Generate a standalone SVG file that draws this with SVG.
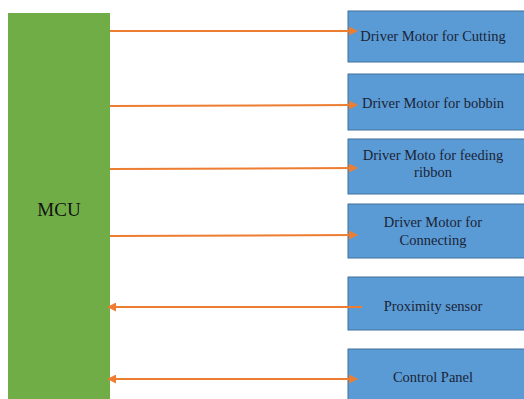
<svg xmlns="http://www.w3.org/2000/svg" width="524" height="399" viewBox="0 0 524 399">
<defs>
<style>
.box{fill:#5b9bd5;stroke:#41719c;stroke-width:1}
.t{font-family:"Liberation Serif","DejaVu Serif","Times New Roman",serif;font-size:14.5px;fill:#1a2436;text-anchor:middle}
.ln{stroke:#ed7d31;stroke-width:2;fill:none}
</style>
<marker id="ah" viewBox="0 0 10 10" refX="9" refY="5" markerWidth="4.5" markerHeight="4.5" orient="auto-start-reverse" markerUnits="strokeWidth">
<path d="M0,0 L10,5 L0,10 Z" fill="#ed7d31"/>
</marker>
</defs>
<rect width="524" height="399" fill="#ffffff"/>
<g id="mcu">
<rect x="8" y="13" width="102" height="390" fill="#70ad47"/>
<text x="59" y="216" style="font-family:'Liberation Serif','DejaVu Serif','Times New Roman',serif;font-size:19px;fill:#111;text-anchor:middle">MCU</text>
</g>
<g id="n1"><rect class="box" x="348" y="11" width="182" height="51"/><text class="t" x="433" y="41">Driver Motor  for Cutting</text></g>
<g id="n2"><rect class="box" x="348" y="74" width="182" height="56"/><text class="t" x="433" y="108">Driver Motor for bobbin</text></g>
<g id="n3"><rect class="box" x="348" y="139" width="182" height="55"/><text class="t" x="433" y="160">Driver Moto  for feeding</text><text class="t" x="433" y="177">ribbon</text></g>
<g id="n4"><rect class="box" x="348" y="204" width="182" height="54"/><text class="t" x="433" y="227">Driver Motor for</text><text class="t" x="433" y="245">Connecting</text></g>
<g id="n5"><rect class="box" x="348" y="277" width="182" height="53"/><text class="t" x="433" y="311">Proximity sensor</text></g>
<g id="n6"><rect class="box" x="348" y="349" width="182" height="60"/><text class="t" x="433" y="382">Control Panel</text></g>
<g id="connectors">
<line class="ln" x1="110" y1="31" x2="357" y2="31" marker-end="url(#ah)"/>
<line class="ln" x1="110" y1="106" x2="357" y2="105" marker-end="url(#ah)"/>
<line class="ln" x1="110" y1="169" x2="357" y2="168" marker-end="url(#ah)"/>
<line class="ln" x1="110" y1="236" x2="357" y2="235" marker-end="url(#ah)"/>
<line class="ln" x1="108" y1="307" x2="362" y2="307" marker-start="url(#ah)"/>
<line class="ln" x1="108" y1="379" x2="357" y2="379" marker-start="url(#ah)" marker-end="url(#ah)"/>
</g>
</svg>
